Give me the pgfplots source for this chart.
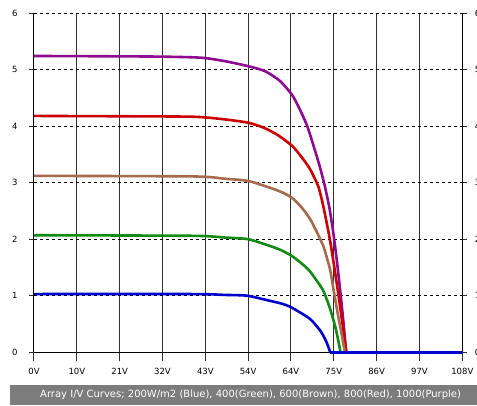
\documentclass[border=0pt]{standalone}
\usepackage{pgfplots}
\pgfplotsset{compat=1.18}
\usetikzlibrary{calc}
\usepackage{fontspec}
\setmainfont{DejaVu Sans}

\definecolor{cpurple}{HTML}{8E0A8E}
\definecolor{cred}{HTML}{CC0000}
\definecolor{cbrown}{HTML}{A66A4C}
\definecolor{cgreen}{HTML}{138A13}
\definecolor{cblue}{HTML}{0000CC}
\definecolor{band}{HTML}{7C7C7C}
\definecolor{gridc}{HTML}{303030}

\pgfplotsset{
  ivbase/.style={
    scale only axis, width=428.3pt, height=339.3pt,
    xmin=0, xmax=108, ymin=0, ymax=6,
    axis line style={black, line width=1pt, -},
    ytick={0,1,2,3,4,5,6},
    tick align=outside,
    tick style={gridc, line width=1pt},
    tick label style={font=\fontsize{8.5}{10}\selectfont},
    /pgf/number format/assume math mode=true,
    clip=false,
  },
  ivline/.style={line width=2.6pt, smooth, tension=0.4},
}

\begin{document}
\begin{tikzpicture}
\begin{axis}[
    ivbase, name=main,
    axis x line*=bottom, axis y line*=left,
    major tick length=9pt,
    xtick={0,10.8,21.6,32.4,43.2,54,64.8,75.6,86.4,97.2,108},
    xticklabels={0V,10V,21V,32V,43V,54V,64V,75V,86V,97V,108V},
    ytick style={draw=none},
    xmajorgrids, ymajorgrids,
    x grid style={gridc, line width=1pt},
    y grid style={black, line width=1pt, dash pattern=on 3pt off 3pt},
    xticklabel style={yshift=-3.5pt},
    yticklabel style={xshift=-4pt},
  ]
  % 1000 W/m2
  \addplot[cpurple, ivline] coordinates {
    (0,5.24) (30,5.23) (42,5.21) (48,5.15) (54,5.06) (58.3,4.97) (62,4.8)
    (65.1,4.55) (67,4.3) (68.9,4.0) (70.5,3.65) (72,3.3) (73.3,2.95)
    (74.5,2.55) (75.5,2.1) (76.4,1.6) (77.2,1.1) (78.0,0.55) (78.7,0) };
  % 800 W/m2
  \addplot[cred, ivline] coordinates {
    (0,4.18) (35,4.17) (41.9,4.16) (48,4.12) (54,4.06) (58,3.97) (61.5,3.84)
    (65.1,3.65) (67.5,3.45) (69.6,3.24) (71.6,2.95) (72.4,2.75) (73.2,2.5)
    (74.6,2.0) (75.8,1.47) (76.9,0.95) (77.9,0.45) (78.8,0) };
  % 600 W/m2
  \addplot[cbrown, ivline] coordinates {
    (0,3.12) (40,3.11) (48,3.07) (54,3.03) (59.5,2.91) (62.5,2.83) (65.1,2.73)
    (67.5,2.56) (69.6,2.36) (71.5,2.1) (73.0,1.87) (73.9,1.66) (74.7,1.45)
    (75.5,1.12) (76.5,0.72) (77.5,0.35) (78.4,0) };
  % 400 W/m2
  \addplot[cgreen, ivline] coordinates {
    (0,2.07) (40,2.06) (48,2.03) (54,2.0) (59.5,1.88) (62.5,1.80) (65.1,1.70)
    (67.5,1.57) (69.6,1.43) (72.7,1.12) (73.8,0.94) (74.7,0.76) (75.9,0.47)
    (76.6,0.25) (77.3,0) };
  % 200 W/m2
  \addplot[cblue, ivline] coordinates {
    (0,1.03) (40,1.03) (48,1.015) (53.8,1.0) (59.5,0.91) (62.5,0.86) (65,0.79)
    (69.6,0.59) (72.2,0.38) (73.5,0.22) (74.3,0.08) (74.7,0) };
  \addplot[cblue, line width=2.6pt] coordinates { (74.7,0) (108,0) };
\end{axis}

% left and right ticks, right hand labels
\begin{axis}[
    ivbase,
    major tick length=5pt,
    axis x line=none, axis y line=box,
    ytick pos=both, yticklabel pos=right,
    yticklabel style={xshift=4pt},
  ]
  \addplot[draw=none] coordinates {(0,0)};
\end{axis}

% page frame taken from the plot box: 34px left, 52.7px below
\pgfresetboundingbox
\coordinate (pg) at ($(main.south west)+(-34pt,-52.7pt)$);
\path[use as bounding box] (pg) rectangle ++(477pt,405pt);
\fill[band] ($(pg)+(10pt,0pt)$) rectangle ++(467pt,20pt);
\node[anchor=west, text=white, font=\fontsize{10}{12}\selectfont, inner sep=0pt]
  at ($(pg)+(40pt,10pt)$)
  {Array I/V Curves; 200W/m2 (Blue), 400(Green), 600(Brown), 800(Red), 1000(Purple)};
\end{tikzpicture}
\end{document}
